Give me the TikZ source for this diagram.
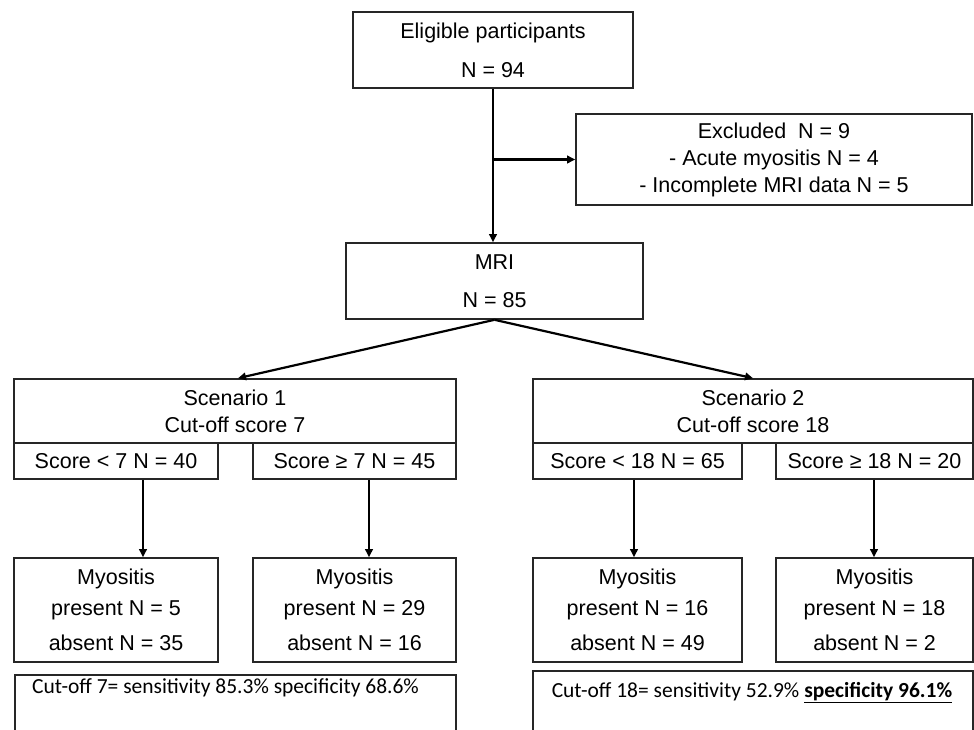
\documentclass[tikz,border=0pt]{standalone}
\usepackage{fontspec}
\setmainfont{Liberation Sans}
\newfontfamily\calfont{Carlito}
\usetikzlibrary{arrows.meta}
\begin{document}
\begin{tikzpicture}[x=1pt,y=-1pt,
  box/.style={draw=black!85, line width=1.6pt, inner sep=0pt, align=center,
    font=\fontsize{21.5}{27}\selectfont},
  arr/.style={line width=2.2pt, -{Triangle[length=8pt,width=7.5pt]}},
  ctext/.style={inner sep=0pt, font=\calfont\fontsize{21.5}{26}\selectfont}
]
\useasboundingbox[fill=white] (0,0) rectangle (974,729);

\node[box, minimum width=280pt, minimum height=76pt] (elig) at (493,50)
  {Eligible participants\\[12pt]N = 94};
\node[box, minimum width=396pt, minimum height=91pt] (excl) at (774,159.5)
  {Excluded \ N = 9\\- Acute myositis N = 4\\- Incomplete MRI data N = 5};
\node[box, minimum width=297pt, minimum height=76pt] (mri) at (494.5,281)
  {MRI\\[11pt]N = 85};

\node[box, minimum width=442pt, minimum height=64pt] (sc1) at (235,411)
  {Scenario 1\\Cut-off score 7};
\node[box, minimum width=204pt, minimum height=36pt] (s1a) at (116,461)
  {Score < 7 N = 40};
\node[box, minimum width=203pt, minimum height=36pt] (s1b) at (354.5,461)
  {Score ≥ 7 N = 45};

\node[box, minimum width=440pt, minimum height=64pt] (sc2) at (753,411)
  {Scenario 2\\Cut-off score 18};
\node[box, minimum width=209pt, minimum height=36pt] (s2a) at (637.5,461)
  {Score < 18 N = 65};
\node[box, minimum width=197pt, minimum height=36pt] (s2b) at (874.5,461)
  {Score ≥ 18 N = 20};

\node[box, minimum width=204pt, minimum height=104pt] (m1a) at (116,610)
  {Myositis\\[4pt]present N = 5\\[8pt]absent N = 35};
\node[box, minimum width=203pt, minimum height=104pt] (m1b) at (354.5,610)
  {Myositis\\[4pt]present N = 29\\[8pt]absent N = 16};
\node[box, minimum width=209pt, minimum height=104pt] (m2a) at (637.5,610)
  {Myositis\\[4pt]present N = 16\\[8pt]absent N = 49};
\node[box, minimum width=197pt, minimum height=104pt] (m2b) at (874.5,610)
  {Myositis\\[4pt]present N = 18\\[8pt]absent N = 2};

\node[box, minimum width=441pt, minimum height=90pt, anchor=north] (c1) at (235.5,674) {};
\node[ctext, anchor=west] (c1t) at (32,688)
  {Cut-off 7= sensitivity 85.3\% specificity 68.6\%};
\node[box, minimum width=440pt, minimum height=90pt, anchor=north] (c2) at (753,670) {};
\node[ctext] (c2t) at (752,693)
  {Cut-off 18= sensitivity 52.9\% \underline{\textbf{specificity 96.1\%}}};

\draw[arr] (elig.south) -- (elig.south |- mri.north);
\draw[arr] (elig.south |- excl.west) -- (excl.west);
\draw[arr] (mri.south) -- ([xshift=3pt]sc1.north);
\draw[arr] (mri.south) -- (sc2.north);
\draw[arr] ([xshift=27pt]s1a.south) -- ([xshift=27pt]m1a.north);
\draw[arr] ([xshift=14.5pt]s1b.south) -- ([xshift=14.5pt]m1b.north);
\draw[arr] ([xshift=-3.5pt]s2a.south) -- ([xshift=-3.5pt]m2a.north);
\draw[arr] ([xshift=-0.5pt]s2b.south) -- ([xshift=-0.5pt]m2b.north);
\end{tikzpicture}
\end{document}
